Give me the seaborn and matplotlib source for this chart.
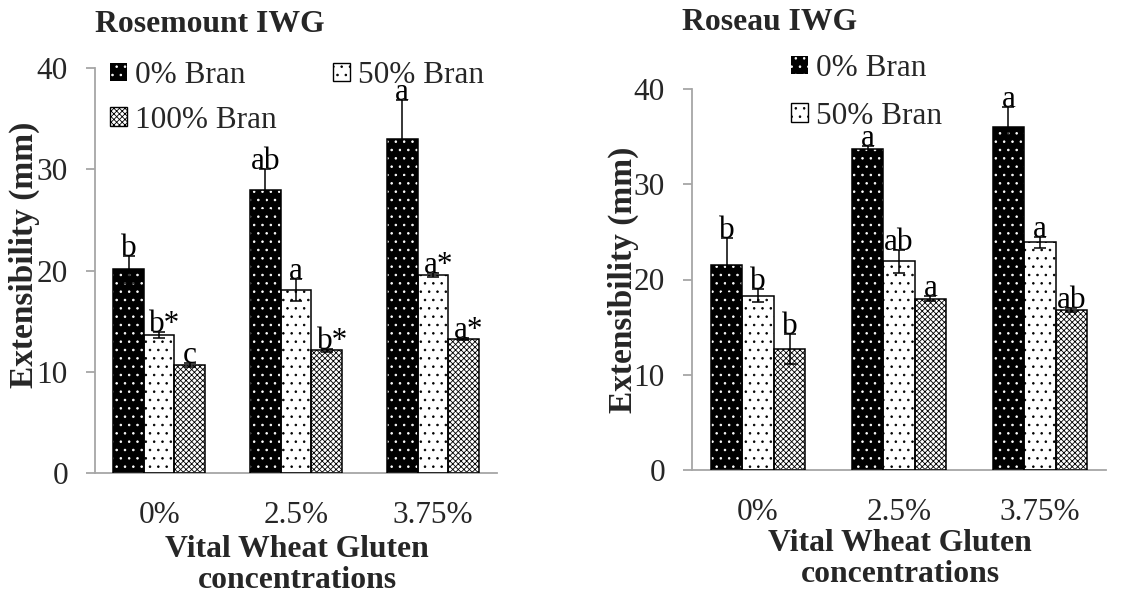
import matplotlib
matplotlib.use("Agg")
import matplotlib.pyplot as plt
from matplotlib.patches import Rectangle, Patch
import pandas as pd
import seaborn as sns

# Vital wheat gluten levels (x categories) and bran substitution levels (hue)
gluten = ["0%", "2.5%", "3.75%"]
bran = ["0% Bran", "50% Bran", "100% Bran"]

# Rosemount IWG extensibility (mm): means, error bars and significance letters
rosemount_0 = [20.1, 28.0, 33.0]
rosemount_50 = [13.6, 18.1, 19.6]
rosemount_100 = [10.7, 12.1, 13.2]
rosemount_0_err = [1.3, 2.0, 3.8]
rosemount_50_err = [0.3, 1.1, 0.2]
rosemount_100_err = [0.2, 0.1, 0.1]
rosemount_0_sig = ["b", "ab", "a"]
rosemount_50_sig = ["b*", "a", "a*"]
rosemount_100_sig = ["c", "b*", "a*"]

# Roseau IWG extensibility (mm)
roseau_0 = [21.5, 33.7, 36.0]
roseau_50 = [18.3, 21.9, 23.9]
roseau_100 = [12.7, 18.0, 16.8]
roseau_0_err = [2.9, 0.35, 2.1]
roseau_50_err = [0.7, 1.2, 0.6]
roseau_100_err = [1.6, 0.3, 0.2]
roseau_0_sig = ["b", "a", "a"]
roseau_50_sig = ["b", "ab", "a"]
roseau_100_sig = ["b", "a", "ab"]

y_ticks = [0, 10, 20, 30, 40]

sns.set_theme(style="white")
plt.rcParams["font.family"] = ["Liberation Serif", "DejaVu Serif"]
plt.rcParams["hatch.linewidth"] = 0.6

FS = 22.5      # tick labels, legend, letters
FS_B = 22.8    # bold titles and x labels
FS_Y = 24      # bold y labels
GRAY = "#a6a6a6"

face = ["black", "white", "white"]
hatches = ["..", "..", "xxxxxx"]
hatch_col = ["white", "black", "black"]

W, H = 1123, 600
fig = plt.figure(figsize=(W / 100, H / 100), dpi=100)


def fx(px):
    return px / W


def fy(px):
    return 1 - px / H


def panel(rect, series, errs, sigs):
    ax = fig.add_axes(rect)
    df = pd.DataFrame({
        "gluten": gluten * 3,
        "bran": [b for b in bran for _ in gluten],
        "value": [v for s in series for v in s],
    })
    sns.barplot(data=df, x="gluten", y="value", hue="bran", order=gluten,
                hue_order=bran, palette=face, saturation=1, width=0.67,
                errorbar=None, legend=False, ax=ax)
    for cont, h, hc, vals, ee, ss in zip(ax.containers, hatches, hatch_col,
                                         series, errs, sigs):
        xs = []
        for p in cont:
            p.set_hatch(h)
            p.set_edgecolor(hc)
            p.set_linewidth(0)
            ax.add_patch(Rectangle((p.get_x(), p.get_y()), p.get_width(),
                                   p.get_height(), fill=False,
                                   edgecolor="black", linewidth=1.1, zorder=3))
            xs.append(p.get_x() + p.get_width() / 2)
        ax.errorbar(xs, vals, yerr=ee, fmt="none", ecolor="black",
                    elinewidth=1.1, capsize=4.5, capthick=1.1, zorder=4)
        for x, v, e, s in zip(xs, vals, ee, ss):
            dx = 4 if "*" in s else 0
            ax.annotate(s, (x, v + e), xytext=(dx, 0),
                        textcoords="offset points", ha="center",
                        va="baseline", fontsize=FS, color="black", zorder=5)
    ax.set_ylim(0, 40)
    ax.set_yticks(y_ticks)
    ax.set_xlabel("")
    ax.set_ylabel("")
    for side in ["top", "right"]:
        ax.spines[side].set_visible(False)
    for side in ["left", "bottom"]:
        ax.spines[side].set_color(GRAY)
        ax.spines[side].set_linewidth(1.3)
    ax.tick_params(axis="y", length=6.5, width=1.3, color=GRAY,
                   direction="out", pad=13, labelsize=FS, left=True)
    ax.tick_params(axis="x", length=0, pad=20, labelsize=FS)
    return ax


def legend_handles():
    return [
        Patch(facecolor=face[0], edgecolor=hatch_col[0], hatch=hatches[0], linewidth=0),
        Patch(facecolor=face[1], edgecolor=hatch_col[1], hatch=hatches[1], linewidth=1),
        Patch(facecolor=face[2], edgecolor=hatch_col[2], hatch=hatches[2], linewidth=1),
    ]


# Left panel: Rosemount IWG
ax1 = panel([fx(95), fy(473), fx(497 - 95), (473 - 68) / H],
            [rosemount_0, rosemount_50, rosemount_100],
            [rosemount_0_err, rosemount_50_err, rosemount_100_err],
            [rosemount_0_sig, rosemount_50_sig, rosemount_100_sig])

# Right panel: Roseau IWG
ax2 = panel([fx(692), fy(470), fx(1106 - 692), (470 - 89) / H],
            [roseau_0, roseau_50, roseau_100],
            [roseau_0_err, roseau_50_err, roseau_100_err],
            [roseau_0_sig, roseau_50_sig, roseau_100_sig])

# Legends
hd = legend_handles()
fig.legend([hd[0], hd[2], hd[1]], [bran[0], bran[2], bran[1]],
           loc="upper left", bbox_to_anchor=(fx(110), fy(61)), ncol=2,
           frameon=False, fontsize=FS, handlelength=0.55, handleheight=0.55,
           handletextpad=0.25, columnspacing=1.8, labelspacing=0.5,
           borderpad=0, borderaxespad=0)
fig.legend(hd[:2], bran[:2], loc="upper left",
           bbox_to_anchor=(fx(791), fy(54)), ncol=1, frameon=False,
           fontsize=FS, handlelength=0.55, handleheight=0.55,
           handletextpad=0.25, labelspacing=0.6, borderpad=0,
           borderaxespad=0)

# Titles
fig.text(fx(95), fy(25), "Rosemount IWG", ha="left", va="center",
         fontsize=FS_B, fontweight="bold")
fig.text(fx(682), fy(23), "Roseau IWG", ha="left", va="center",
         fontsize=FS_B, fontweight="bold")

# Axis labels
fig.text(fx(24), fy(255), "Extensibility (mm)", rotation=90, ha="center",
         va="center", fontsize=FS_Y, fontweight="bold")
fig.text(fx(623), fy(280), "Extensibility (mm)", rotation=90, ha="center",
         va="center", fontsize=FS_Y, fontweight="bold")
fig.text(fx(297), fy(565), "Vital Wheat Gluten\nconcentrations",
         ha="center", va="center", fontsize=FS_B, fontweight="bold",
         linespacing=1.05)
fig.text(fx(900), fy(559), "Vital Wheat Gluten\nconcentrations",
         ha="center", va="center", fontsize=FS_B, fontweight="bold",
         linespacing=1.05)

fig.savefig("out.png", dpi=100, facecolor="white")
